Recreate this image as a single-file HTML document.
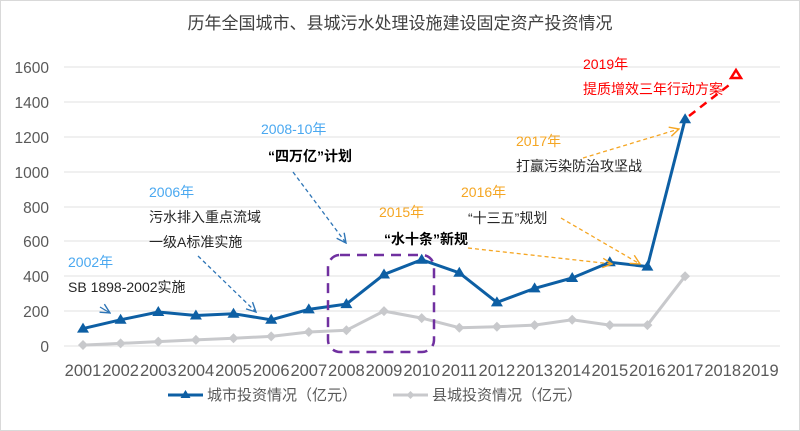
<!DOCTYPE html>
<html><head><meta charset="utf-8"><style>
html,body{margin:0;padding:0;background:#fff}
svg{display:block}
text{font-family:"Liberation Sans","Noto Sans CJK SC",sans-serif}
</style></head><body>
<svg width="800" height="431" viewBox="0 0 800 431" xmlns="http://www.w3.org/2000/svg">
<defs>
<marker id="ab" viewBox="0 0 10 10" refX="9" refY="5" markerWidth="9" markerHeight="9" orient="auto"><path d="M1,1 L9,5 L1,9" fill="none" stroke="#2e75b6" stroke-width="1.2"/></marker>
<marker id="ao" viewBox="0 0 10 10" refX="9" refY="5" markerWidth="9" markerHeight="9" orient="auto"><path d="M1,1 L9,5 L1,9" fill="none" stroke="#f5a623" stroke-width="1.2"/></marker>
</defs>
<rect x="0.5" y="0.5" width="799" height="430" fill="#fff" stroke="#d9d9d9"/>
<text x="400" y="29" font-size="17" fill="#404040" text-anchor="middle">历年全国城市、县城污水处理设施建设固定资产投资情况</text>
<g stroke="#e0e0e0" stroke-width="1">
<line x1="64" x2="780" y1="67" y2="67"/><line x1="64" x2="780" y1="102" y2="102"/><line x1="64" x2="780" y1="137" y2="137"/><line x1="64" x2="780" y1="172" y2="172"/><line x1="64" x2="780" y1="207" y2="207"/><line x1="64" x2="780" y1="241" y2="241"/><line x1="64" x2="780" y1="276" y2="276"/><line x1="64" x2="780" y1="311" y2="311"/><line x1="64" x2="780" y1="346" y2="346"/>
</g>
<g font-size="15.5" fill="#595959" text-anchor="end">
<text x="49" y="73">1600</text><text x="49" y="108">1400</text><text x="49" y="143">1200</text><text x="49" y="178">1000</text><text x="49" y="213">800</text><text x="49" y="247">600</text><text x="49" y="282">400</text><text x="49" y="317">200</text><text x="49" y="352">0</text>
</g>
<g font-size="16.5" fill="#595959" text-anchor="middle">
<text x="83" y="376">2001</text><text x="120.6" y="376">2002</text><text x="158.3" y="376">2003</text><text x="195.9" y="376">2004</text><text x="233.5" y="376">2005</text><text x="271.2" y="376">2006</text><text x="308.8" y="376">2007</text><text x="346.4" y="376">2008</text><text x="384" y="376">2009</text><text x="421.7" y="376">2010</text><text x="459.3" y="376">2011</text><text x="496.9" y="376">2012</text><text x="534.6" y="376">2013</text><text x="572.2" y="376">2014</text><text x="609.8" y="376">2015</text><text x="647.4" y="376">2016</text><text x="685.1" y="376">2017</text><text x="722.7" y="376">2018</text><text x="760.3" y="376">2019</text>
</g>
<polyline fill="none" stroke="#c8c9cc" stroke-width="3" points="83,345.1 120.6,343.4 158.3,341.6 195.9,339.9 233.5,338.2 271.2,336.4 308.8,332 346.4,330.3 384,311.1 421.7,318.1 459.3,327.7 496.9,326.8 534.6,325.1 572.2,319.8 609.8,325.1 647.4,325.1 685.1,276.2"/>
<g fill="#c8c9cc">
<path d="M83,340 l5,5 l-5,5 l-5,-5z"/><path d="M120.6,338.4 l5,5 l-5,5 l-5,-5z"/><path d="M158.3,336.6 l5,5 l-5,5 l-5,-5z"/><path d="M195.9,334.9 l5,5 l-5,5 l-5,-5z"/><path d="M233.5,333.2 l5,5 l-5,5 l-5,-5z"/><path d="M271.2,331.4 l5,5 l-5,5 l-5,-5z"/><path d="M308.8,327 l5,5 l-5,5 l-5,-5z"/><path d="M346.4,325.3 l5,5 l-5,5 l-5,-5z"/><path d="M384,306.1 l5,5 l-5,5 l-5,-5z"/><path d="M421.7,313.1 l5,5 l-5,5 l-5,-5z"/><path d="M459.3,322.7 l5,5 l-5,5 l-5,-5z"/><path d="M496.9,321.8 l5,5 l-5,5 l-5,-5z"/><path d="M534.6,320.1 l5,5 l-5,5 l-5,-5z"/><path d="M572.2,314.8 l5,5 l-5,5 l-5,-5z"/><path d="M609.8,320.1 l5,5 l-5,5 l-5,-5z"/><path d="M647.4,320.1 l5,5 l-5,5 l-5,-5z"/><path d="M685.1,271.2 l5,5 l-5,5 l-5,-5z"/>
</g>
<line x1="689" y1="116" x2="733" y2="82" stroke="#ff0000" stroke-width="2.5" stroke-dasharray="8,6"/>
<path d="M736,70 l5,8 l-10,0z" fill="#fff" stroke="#ff0000" stroke-width="2.5"/>
<polyline fill="none" stroke="#0d5fa4" stroke-width="3" points="83,328.6 120.6,319.8 158.3,312 195.9,315.5 233.5,313.7 271.2,319.8 308.8,309.4 346.4,304.1 384,274.5 421.7,259.7 459.3,272.8 496.9,302.4 534.6,288.4 572.2,278 609.8,262.3 647.4,266.6 685.1,119.3"/>
<g fill="#0d5fa4">
<path d="M83,322.6 l6,10 l-12,0z"/><path d="M120.6,313.8 l6,10 l-12,0z"/><path d="M158.3,306 l6,10 l-12,0z"/><path d="M195.9,309.5 l6,10 l-12,0z"/><path d="M233.5,307.7 l6,10 l-12,0z"/><path d="M271.2,313.8 l6,10 l-12,0z"/><path d="M308.8,303.4 l6,10 l-12,0z"/><path d="M346.4,298.1 l6,10 l-12,0z"/><path d="M384,268.5 l6,10 l-12,0z"/><path d="M421.7,253.7 l6,10 l-12,0z"/><path d="M459.3,266.8 l6,10 l-12,0z"/><path d="M496.9,296.4 l6,10 l-12,0z"/><path d="M534.6,282.4 l6,10 l-12,0z"/><path d="M572.2,272 l6,10 l-12,0z"/><path d="M609.8,256.3 l6,10 l-12,0z"/><path d="M647.4,260.6 l6,10 l-12,0z"/><path d="M685.1,113.3 l6,10 l-12,0z"/>
</g>
<rect x="328" y="255" width="106" height="97" rx="12" fill="none" stroke="#7030a0" stroke-width="2.5" stroke-dasharray="10,7"/>
<g stroke-width="1.3" stroke-dasharray="4,3" fill="none">
<line x1="100" y1="307" x2="110" y2="313" stroke="#2e75b6" marker-end="url(#ab)" stroke-dasharray="none"/>
<line x1="198" y1="256" x2="256" y2="312" stroke="#2e75b6" marker-end="url(#ab)"/>
<line x1="293" y1="172" x2="346" y2="243" stroke="#2e75b6" marker-end="url(#ab)"/>
<line x1="468" y1="248" x2="612" y2="264" stroke="#f5a623" marker-end="url(#ao)"/>
<line x1="561" y1="218" x2="640" y2="264" stroke="#f5a623" marker-end="url(#ao)"/>
<line x1="583" y1="158" x2="679" y2="129" stroke="#f5a623" marker-end="url(#ao)"/>
</g>
<g font-size="14">
<text x="68" y="267" fill="#4aa8f0">2002年</text>
<text x="68" y="292" fill="#262626">SB 1898-2002实施</text>
<text x="149" y="197" fill="#4aa8f0">2006年</text>
<text x="149" y="222" fill="#262626">污水排入重点流域</text>
<text x="149" y="247" fill="#262626">一级A标准实施</text>
<text x="261" y="134" fill="#4aa8f0">2008-10年</text>
<text x="268" y="161" fill="#000" font-weight="bold">“四万亿”计划</text>
<text x="379" y="217" fill="#f5a623">2015年</text>
<text x="384" y="244" fill="#000" font-weight="bold">“水十条”新规</text>
<text x="461" y="197" fill="#f5a623">2016年</text>
<text x="468" y="223" fill="#262626">“十三五”规划</text>
<text x="516" y="146" fill="#f5a623">2017年</text>
<text x="516" y="171" fill="#262626">打赢污染防治攻坚战</text>
<text x="583" y="69" fill="#ff0000">2019年</text>
<text x="583" y="94" fill="#ff0000">提质增效三年行动方案</text>
</g>
<line x1="168" y1="395" x2="203" y2="395" stroke="#0d5fa4" stroke-width="3"/>
<path d="M185.5,390 l5,8 l-10,0z" fill="#0d5fa4"/>
<text x="207" y="400" font-size="15" fill="#595959">城市投资情况（亿元）</text>
<line x1="393" y1="395" x2="428" y2="395" stroke="#c8c9cc" stroke-width="3"/>
<path d="M410.5,391 l4,4 l-4,4 l-4,-4z" fill="#c8c9cc"/>
<text x="432" y="400" font-size="15" fill="#595959">县城投资情况（亿元）</text>
</svg>
</body></html>
